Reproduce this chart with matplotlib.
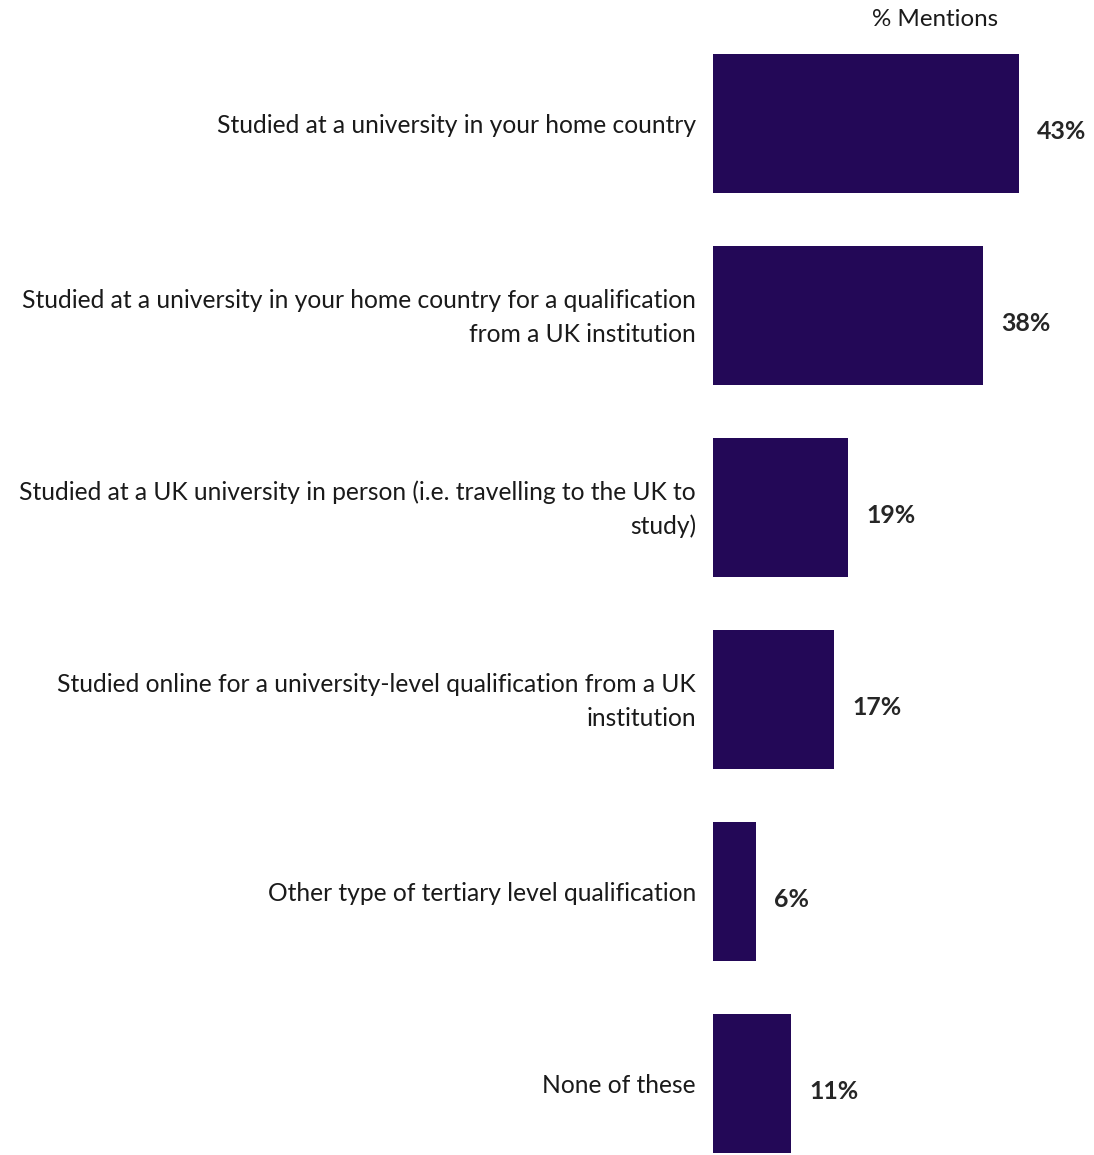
import matplotlib
matplotlib.use("Agg")
import matplotlib.pyplot as plt

categories = [
    "Studied at a university in your home country",
    "Studied at a university in your home country for a qualification\nfrom a UK institution",
    "Studied at a UK university in person (i.e. travelling to the UK to\nstudy)",
    "Studied online for a university-level qualification from a UK\ninstitution",
    "Other type of tertiary level qualification",
    "None of these",
]
values = [43, 38, 19, 17, 6, 11]
value_labels = ["43%", "38%", "19%", "17%", "6%", "11%"]
header = "% Mentions"

W, H = 1094, 1155
fig = plt.figure(figsize=(W / 100, H / 100), dpi=100)
plt.rcParams["font.family"] = ["Lato", "DejaVu Sans"]

ppu = 306 / 43.0  # px per percent
left_px = 713
ax_w_px = 50 * ppu
top_px = 27.5
ax = fig.add_axes([left_px / W, 0, ax_w_px / W, (H - top_px) / H])
ax.set_xlim(0, 50)
ax.set_ylim(5 + (H - 1083.5) / 192.0, -0.5)
ax.axis("off")

color = "#230857"
ypos = list(range(len(values)))
ax.barh(ypos, values, height=139 / 192.0, color=color)

for y, v, cat, lab in zip(ypos, values, categories, value_labels):
    ax.annotate(cat, xy=(0, y), xytext=(-17, -2), textcoords="offset pixels",
                ha="right", va="center", fontsize=17.7, color="#1a1a1a",
                linespacing=1.55, multialignment="right")
    ax.annotate(lab, xy=(v, y), xytext=(18, -8), textcoords="offset pixels",
                ha="left", va="center", fontsize=17.9, fontweight="bold",
                color="#262626")

fig.text(935 / W, 1 - 20 / H, header, ha="center", va="center", fontsize=17.4,
         color="#1a1a1a")

fig.savefig("out.png", dpi=100)
